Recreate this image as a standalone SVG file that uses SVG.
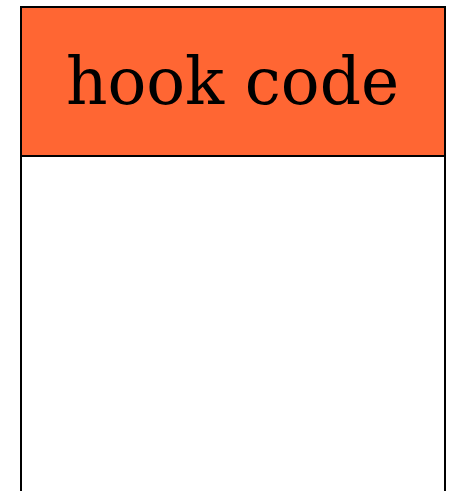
<svg xmlns="http://www.w3.org/2000/svg" width="455" height="491" viewBox="0 0 455 491">
<style>
.box{fill:#ffffff;stroke:#000000;stroke-width:2}
.hdr{fill:#ff6633;stroke:#000000;stroke-width:2}
.lbl{font-family:"DejaVu Serif",serif;font-size:64.5px;fill:#000000;text-anchor:middle}
</style>
<rect width="455" height="491" fill="#ffffff"/>
<g id="hook-code">
<rect class="box" x="21" y="7" width="424" height="500"/>
<rect class="hdr" x="21" y="7" width="424" height="149"/>
<text class="lbl" x="232.5" y="103.5">hook code</text>
</g>
<g id="connectors"/>
</svg>
